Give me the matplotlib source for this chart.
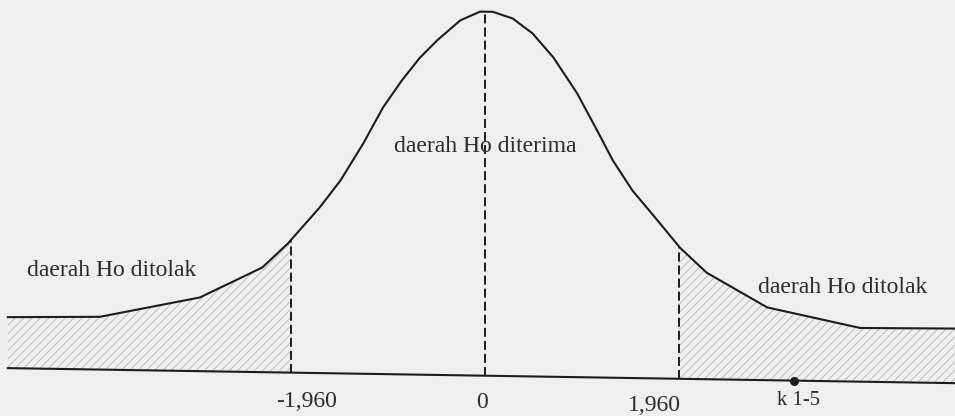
import numpy as np
import matplotlib
matplotlib.use('Agg')
import matplotlib.pyplot as plt
from matplotlib.transforms import Affine2D

plt.rcParams['font.family'] = 'Liberation Serif'
plt.rcParams['hatch.linewidth'] = 0.6
plt.rcParams['lines.scale_dashes'] = False

# kurva normal (z vs tinggi)
curve_z = np.array([-4.82, -3.89, -2.88, -2.25, -1.99, -1.67, -1.46, -1.23, -1.03,
                    -0.84, -0.66, -0.48, -0.25, -0.05, 0.08, 0.28, 0.48, 0.69,
                    0.93, 1.13, 1.29, 1.49, 1.74, 1.97, 2.24, 2.85, 3.79, 4.75])
curve_y = np.array([0.056, 0.058, 0.081, 0.115, 0.142, 0.182, 0.212, 0.253, 0.293,
                    0.323, 0.348, 0.368, 0.390, 0.400, 0.400, 0.393, 0.377, 0.351,
                    0.312, 0.272, 0.239, 0.206, 0.174, 0.144, 0.117, 0.080, 0.059, 0.060])
crit_vals = [-1.96, 0.0, 1.96]
tick_labels = ['-1,960', '0', '1,960']
k_val = 3.12
k_label = 'k 1-5'
region_labels = ['daerah Ho ditolak', 'daerah Ho diterima', 'daerah Ho ditolak']

INK = '#1c1c1c'
TXT = '#2b2b2b'
BG = '#efefef'
FS = 17

fig = plt.figure(figsize=(9.55, 4.16), dpi=100, facecolor=BG)
ax = fig.add_axes([0, 0, 1, 1])
ax.set_facecolor(BG)
ax.set_xlim(-485 / 99, 470 / 99)
ax.set_ylim(-48 / 910, 368 / 910)
ax.axis('off')

# hasil scan sedikit miring
tr = ax.transData + Affine2D().skew_deg(0, -0.91)

# daerah penolakan (arsir)
lo, hi = crit_vals[0], crit_vals[-1]
zl = np.r_[curve_z[curve_z < lo], lo]
zr = np.r_[hi, curve_z[curve_z > hi]]
for zz in (zl, zr):
    ax.fill_between(zz, 0, np.interp(zz, curve_z, curve_y), facecolor='none',
                    edgecolor='#b4b4b4', linewidth=0, hatch='////', transform=tr)

ax.plot(curve_z, curve_y, color=INK, lw=1.5, transform=tr,
        solid_joinstyle='round')
ax.plot([curve_z[0], curve_z[-1]], [0, 0], color=INK, lw=1.5, transform=tr)

for c in crit_vals:
    top = np.interp(c, curve_z, curve_y)
    ax.plot([c, c], [0, top], color=INK, lw=1.4, dashes=(6.5, 2.9), transform=tr)

ax.plot([k_val], [0], 'o', color=INK, ms=5.5, transform=tr)

# label sumbu
ax.text(crit_vals[0] - 0.15, -0.0375, tick_labels[0], ha='left', va='baseline',
        fontsize=FS, color=TXT, transform=tr)
ax.text(crit_vals[1] - 0.03, -0.0355, tick_labels[1], ha='center', va='baseline',
        fontsize=FS, color=TXT, transform=tr)
ax.text(crit_vals[2] + 0.02, -0.0358, tick_labels[2], ha='right', va='baseline',
        fontsize=FS, color=TXT, transform=tr)
ax.text(k_val + 0.05, -0.0267, k_label, ha='center', va='baseline',
        fontsize=FS * 0.88, color=TXT, transform=tr)

# label daerah
ax.text(-3.77, 0.103, region_labels[0], ha='center', va='baseline',
        fontsize=FS, color=TXT, transform=tr)
ax.text(0.0, 0.246, region_labels[1], ha='center', va='baseline',
        fontsize=FS, color=TXT, transform=tr)
ax.text(3.61, 0.097, region_labels[2], ha='center', va='baseline',
        fontsize=FS, color=TXT, transform=tr)

fig.savefig('out.png', dpi=100, facecolor=BG)
